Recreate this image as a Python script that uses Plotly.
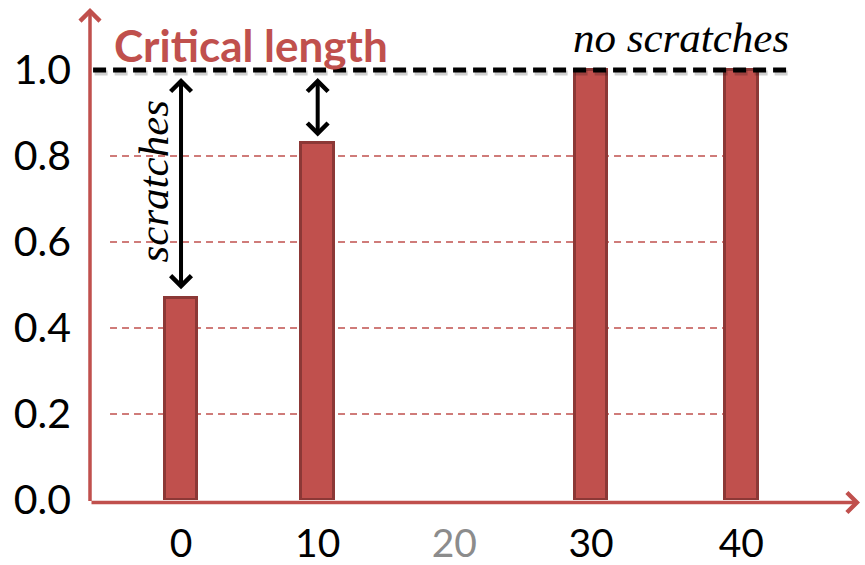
import plotly.graph_objects as go

# ---- data ----
categories = ["0", "10", "20", "30", "40"]
x_positions = [0, 10, 20, 30, 41]
values = [0.47, 0.83, None, 1.0, 1.0]
y_ticks = [0.0, 0.2, 0.4, 0.6, 0.8, 1.0]
y_ticklabels = ["0.0", "0.2", "0.4", "0.6", "0.8", "1.0"]
critical_level = 1.0
arrow_spans = [(0, 0.985, 0.49), (10, 0.985, 0.845)]

RED = "#C0504D"
DARK = "#8C3836"
SERIF = "Liberation Serif, Times New Roman, serif"

fig = go.Figure()
fig.add_trace(go.Bar(
    x=x_positions, y=values, width=2.4,
    marker=dict(color=RED, line=dict(color=DARK, width=3)),
    showlegend=False, hoverinfo="skip",
))

ticktext = [c if c != "20" else "<span style='color:#8c8c8c'>20</span>" for c in categories]

fig.update_layout(
    width=865, height=565,
    margin=dict(l=90, r=5, t=8, b=65),
    paper_bgcolor="white", plot_bgcolor="white",
    font=dict(family="Lato", color="black"),
    xaxis=dict(range=[-6.66, 49.68], tickvals=x_positions, ticktext=ticktext,
               showgrid=False, zeroline=False, showline=False, ticks="", automargin=False,
               tickfont=dict(size=39), ticklabelstandoff=17),
    yaxis=dict(range=[0, 1.144], tickvals=y_ticks, ticktext=y_ticklabels,
               showgrid=False, zeroline=False, showline=False, ticks="", automargin=False,
               tickfont=dict(size=41), ticklabelstandoff=18),
    bargap=0,
)

# grid lines (partial width dashed red)
for yv in y_ticks[1:-1]:
    fig.add_shape(type="line", xref="x domain", yref="y", x0=0.026, x1=0.83, y0=yv, y1=yv,
                  line=dict(color=RED, width=1.6, dash="7px,5px"), layer="below")

# critical length line (with soft shadow)
fig.add_shape(type="line", xref="x domain", yref="y", x0=0.006, x1=0.91,
              y0=critical_level - 0.007, y1=critical_level - 0.007,
              line=dict(color="rgba(0,0,0,0.18)", width=5, dash="13px,7px"), layer="above")
fig.add_shape(type="line", xref="x domain", yref="y", x0=0.004, x1=0.908,
              y0=critical_level, y1=critical_level,
              line=dict(color="black", width=5, dash="13px,7px"), layer="above")

# axes with arrows
fig.add_annotation(xref="x domain", yref="y domain", x=0, y=1.0, axref="x domain", ayref="y domain",
                   ax=0, ay=-0.005, showarrow=True, arrowhead=4, arrowsize=1.1, arrowwidth=3.5,
                   arrowcolor=RED, text="")
fig.add_annotation(xref="x domain", yref="y domain", x=1.0, y=-0.005, axref="x domain", ayref="y domain",
                   ax=0, ay=-0.005, showarrow=True, arrowhead=4, arrowsize=1.1, arrowwidth=3.5,
                   arrowcolor=RED, text="")

# double arrows
for xa, ytop, ybot in arrow_spans:
    fig.add_annotation(x=xa, y=ybot, ax=xa, ay=ytop, axref="x", ayref="y",
                       showarrow=True, arrowhead=4, startarrowhead=4, arrowside="end+start",
                       arrowsize=1.0, startarrowsize=1.0, arrowwidth=4, arrowcolor="black", text="")

# texts
fig.add_annotation(xref="x domain", yref="y domain", x=0.028, y=0.925, xanchor="left", yanchor="middle",
                   text="<b>Critical length</b>", showarrow=False,
                   font=dict(family="Lato", size=44, color=RED))
fig.add_annotation(xref="x domain", yref="y domain", x=0.91, y=0.94, xanchor="right", yanchor="middle",
                   text="no scratches", showarrow=False,
                   font=dict(family=SERIF, size=43, color="black", style="italic"))
fig.add_annotation(x=-2.0, y=0.74, text="scratches", showarrow=False, textangle=-90,
                   font=dict(family=SERIF, size=43, color="black", style="italic"))

fig.write_html("out.html")
